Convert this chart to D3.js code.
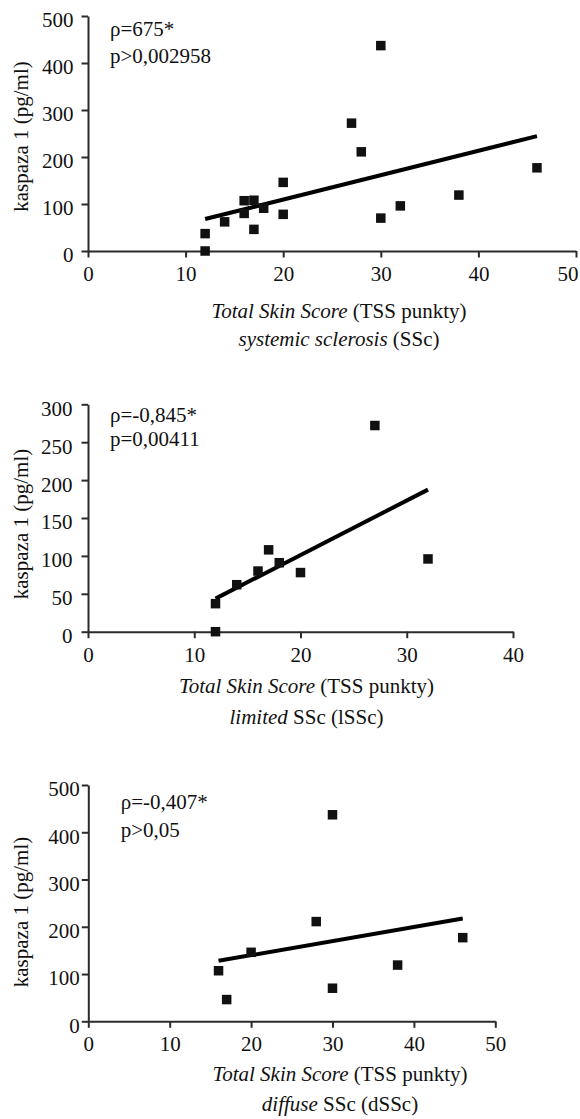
<!DOCTYPE html>
<html>
<head>
<meta charset="utf-8">
<script src="https://cdn.jsdelivr.net/npm/d3@7"></script>
<style>
  html, body { margin: 0; padding: 0; background: #fff; }
  svg { display: block; }
</style>
</head>
<body>
<div id="chart"></div>
<script>
// Total Skin Score (TSS) vs caspase-1 level, limited and diffuse SSc patients
const tssLimited  = [12, 12, 14, 16, 17, 18, 20, 27, 32];
const kaspLimited = [37, 0, 62, 80, 108, 91, 78, 272, 96];
const tssDiffuse  = [16, 17, 20, 28, 30, 30, 38, 46];
const kaspDiffuse = [107, 46, 146, 211, 437, 70, 119, 177];

// whole SSc group = both subgroups
const tssAll  = tssLimited.concat(tssDiffuse);
const kaspAll = kaspLimited.concat(kaspDiffuse);

const xTicks50 = [0, 10, 20, 30, 40, 50];
const xTicks40 = [0, 10, 20, 30, 40];
const yTicks500 = [0, 100, 200, 300, 400, 500];
const yTicks300 = [0, 50, 100, 150, 200, 250, 300];

const statsAll     = ["ρ=675*", "p>0,002958"];
const statsLimited = ["ρ=-0,845*", "p=0,00411"];
const statsDiffuse = ["ρ=-0,407*", "p>0,05"];

const yTitle = "kaspaza 1 (pg/ml)";
const xTitleItalic = "Total Skin Score";
const xTitleRest = " (TSS punkty)";
const groupAll     = ["systemic sclerosis", " (SSc)"];
const groupLimited = ["limited", " SSc (lSSc)"];
const groupDiffuse = ["diffuse", " SSc (dSSc)"];

const W = 580, H = 1119;
const FONT = "'Liberation Serif', 'Times New Roman', serif";
const FS = 21;

const svg = d3.select("#chart").append("svg")
  .attr("width", W).attr("height", H)
  .attr("viewBox", `0 0 ${W} ${H}`);
svg.append("rect").attr("width", W).attr("height", H).attr("fill", "#fff");

const panels = [
  { xs: tssAll, ys: kaspAll, xMax: 50, yMax: 500, xt: xTicks50, yt: yTicks500,
    xr: [88, 576], yr: [251, 16], stats: statsAll, statX: 110, statY: [36, 62.5],
    ylabY: 136.5, ylPad: 8, group: groupAll, titleX: 339, titleY: [318, 346.3] },
  { xs: tssLimited, ys: kaspLimited, xMax: 40, yMax: 300, xt: xTicks40, yt: yTicks300,
    xr: [88, 513], yr: [631.7, 404.3], stats: statsLimited, statX: 110, statY: [422.3, 446],
    ylabY: 524, ylPad: 9, group: groupLimited, titleX: 306.5, titleY: [693.3, 724] },
  { xs: tssDiffuse, ys: kaspDiffuse, xMax: 50, yMax: 500, xt: xTicks50, yt: yTicks500,
    xr: [88.3, 495.3], yr: [1021.3, 785], stats: statsDiffuse, statX: 120.7, statY: [809.3, 836.5],
    ylabY: 912, ylPad: 2, group: groupDiffuse, titleX: 340, titleY: [1081.3, 1111.3] }
];

// least-squares fit
function fit(xs, ys) {
  const n = xs.length;
  const mx = d3.mean(xs), my = d3.mean(ys);
  let sxy = 0, sxx = 0;
  for (let i = 0; i < n; i++) {
    sxy += (xs[i] - mx) * (ys[i] - my);
    sxx += (xs[i] - mx) * (xs[i] - mx);
  }
  const b = sxy / sxx;
  return x => my + b * (x - mx);
}

panels.forEach(p => {
  const x = d3.scaleLinear().domain([0, p.xMax]).range(p.xr);
  const y = d3.scaleLinear().domain([0, p.yMax]).range(p.yr);
  const g = svg.append("g");

  // axes
  const gx = g.append("g")
    .attr("transform", `translate(0,${p.yr[0]})`)
    .call(d3.axisBottom(x).tickValues(p.xt).tickSize(6.5).tickSizeOuter(0).tickPadding(8.6)
      .tickFormat(d3.format("d")));
  const gy = g.append("g")
    .attr("transform", `translate(${p.xr[0]},0)`)
    .call(d3.axisLeft(y).tickValues(p.yt).tickSize(6.5).tickSizeOuter(0).tickPadding(p.ylPad)
      .tickFormat(d3.format("d")));

  [gx, gy].forEach(a => {
    a.attr("font-family", FONT).attr("font-size", FS);
    a.selectAll("path.domain, line").attr("stroke", "#2b2b2b").attr("stroke-width", 2);
    a.selectAll("text").attr("fill", "#111");
  });
  gy.selectAll("text").attr("dy", "0.52em");

  // keep the rightmost tick label inside the page
  gx.selectAll("text").each(function(d) {
    const w = this.getComputedTextLength();
    const right = x(d) + w / 2;
    if (right > W - 2) d3.select(this).attr("dx", (W - 2 - right));
  });

  // regression line
  const f = fit(p.xs, p.ys);
  const x0 = d3.min(p.xs), x1 = d3.max(p.xs);
  g.append("line")
    .attr("x1", x(x0)).attr("y1", y(f(x0)))
    .attr("x2", x(x1)).attr("y2", y(f(x1)))
    .attr("stroke", "#000").attr("stroke-width", 4);

  // points
  const s = 9.5;
  g.selectAll("rect.pt").data(p.xs.map((v, i) => [v, p.ys[i]]))
    .join("rect").attr("class", "pt")
    .attr("x", d => x(d[0]) - s / 2).attr("y", d => y(d[1]) - s / 2)
    .attr("width", s).attr("height", s).attr("fill", "#111");

  // correlation stats
  p.stats.forEach((t, i) => {
    g.append("text").attr("x", p.statX).attr("y", p.statY[i])
      .attr("font-family", FONT).attr("font-size", FS).attr("fill", "#111").text(t);
  });

  // y title
  g.append("text")
    .attr("transform", `translate(28,${p.ylabY}) rotate(-90)`)
    .attr("text-anchor", "middle")
    .attr("font-family", FONT).attr("font-size", FS).attr("fill", "#111")
    .text(yTitle);

  // x title, two lines
  const t1 = g.append("text").attr("x", p.titleX).attr("y", p.titleY[0])
    .attr("text-anchor", "middle").attr("font-family", FONT).attr("font-size", FS).attr("fill", "#111");
  t1.append("tspan").attr("font-style", "italic").text(xTitleItalic);
  t1.append("tspan").text(xTitleRest);

  const t2 = g.append("text").attr("x", p.titleX).attr("y", p.titleY[1])
    .attr("text-anchor", "middle").attr("font-family", FONT).attr("font-size", FS).attr("fill", "#111");
  t2.append("tspan").attr("font-style", "italic").text(p.group[0]);
  t2.append("tspan").text(p.group[1]);
});
</script>
</body>
</html>
